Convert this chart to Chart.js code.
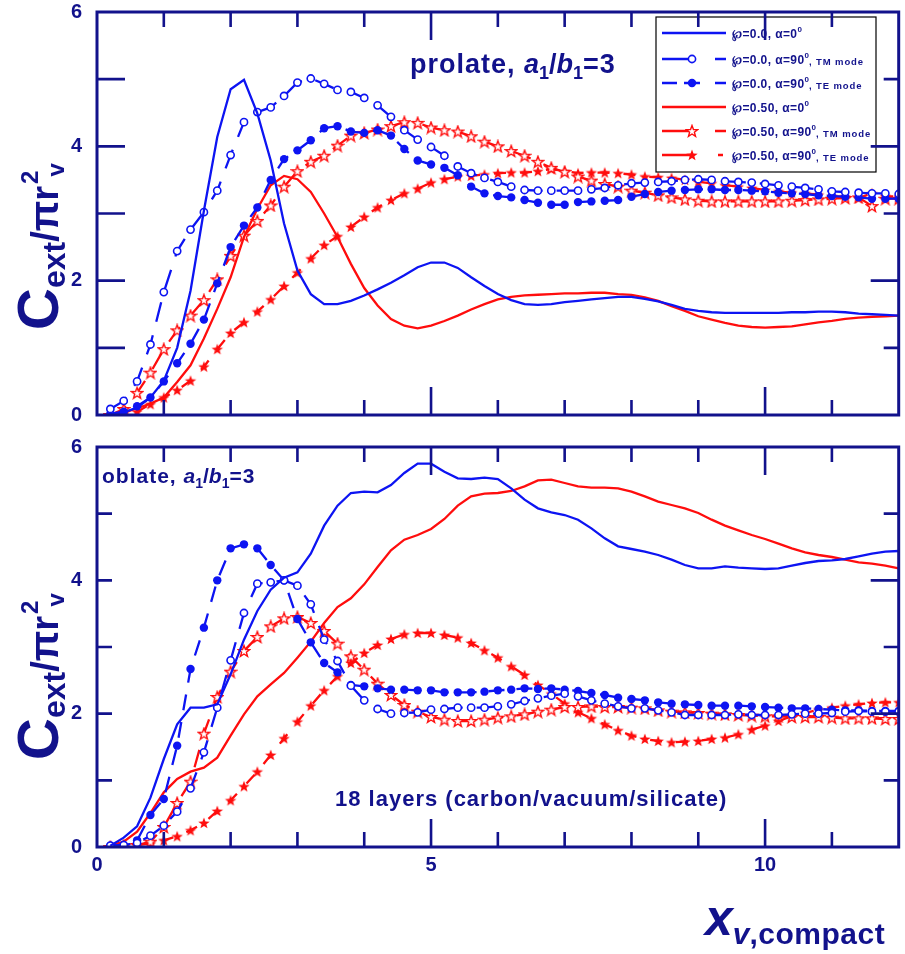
<!DOCTYPE html>
<html>
<head>
<meta charset="utf-8">
<script src="https://cdn.jsdelivr.net/npm/chart.js@4.4.0/dist/chart.umd.min.js"></script>
<style>
  body { margin: 0; background: #fff; }
  #wrap { position: relative; width: 905px; height: 954px; }
  canvas { position: absolute; left: 0; display: block; }
  #top { top: 0; }
  #bot { top: 432px; }
</style>
</head>
<body>
<div id="wrap">
  <canvas id="top" width="905" height="432"></canvas>
  <canvas id="bot" width="905" height="522"></canvas>
</div>
<script>
// size parameter x_v,compact, sampled every 0.2
const xv = [0.2,0.4,0.6,0.8,1.0,1.2,1.4,1.6,1.8,2.0,
  2.2,2.4,2.6,2.8,3.0,3.2,3.4,3.6,3.8,4.0,
  4.2,4.4,4.6,4.8,5.0,5.2,5.4,5.6,5.8,6.0,
  6.2,6.4,6.6,6.8,7.0,7.2,7.4,7.6,7.8,8.0,
  8.2,8.4,8.6,8.8,9.0,9.2,9.4,9.6,9.8,10.0,
  10.2,10.4,10.6,10.8,11.0,11.2,11.4,11.6,11.8,12.0];

// prolate panel
const proBlue0 = [0.00,0.04,0.11,0.26,0.51,1.00,1.85,3.04,4.14,4.85,
  4.99,4.49,3.79,2.85,2.15,1.80,1.65,1.65,1.70,1.78,
  1.87,1.97,2.08,2.20,2.27,2.27,2.19,2.05,1.92,1.80,
  1.71,1.65,1.64,1.65,1.68,1.70,1.72,1.74,1.76,1.76,
  1.73,1.69,1.64,1.58,1.55,1.53,1.52,1.52,1.52,1.52,
  1.52,1.53,1.53,1.54,1.54,1.53,1.51,1.50,1.49,1.48];
const proBlueTM = [0.09,0.21,0.50,1.05,1.83,2.44,2.76,3.02,3.34,3.87,
  4.36,4.51,4.58,4.75,4.95,5.01,4.93,4.84,4.81,4.72,
  4.61,4.44,4.24,4.10,3.99,3.86,3.70,3.60,3.53,3.47,
  3.40,3.35,3.34,3.34,3.34,3.34,3.36,3.38,3.42,3.45,
  3.46,3.47,3.48,3.50,3.51,3.50,3.48,3.47,3.46,3.44,
  3.42,3.40,3.38,3.36,3.33,3.32,3.31,3.30,3.30,3.29];
const proBlueTE = [0.02,0.05,0.13,0.26,0.50,0.77,1.06,1.42,1.96,2.50,
  2.82,3.09,3.50,3.81,3.94,4.09,4.27,4.30,4.22,4.20,
  4.24,4.16,3.96,3.79,3.73,3.68,3.57,3.40,3.30,3.26,
  3.24,3.20,3.16,3.13,3.13,3.17,3.18,3.19,3.20,3.25,
  3.29,3.32,3.34,3.35,3.36,3.36,3.35,3.35,3.34,3.33,
  3.31,3.30,3.29,3.27,3.26,3.25,3.24,3.22,3.22,3.22];
const proRed0 = [0.00,0.03,0.10,0.17,0.26,0.49,0.74,1.14,1.58,2.05,
  2.65,3.07,3.42,3.56,3.51,3.32,3.00,2.65,2.25,1.89,
  1.63,1.43,1.33,1.29,1.33,1.40,1.48,1.57,1.65,1.72,
  1.76,1.78,1.79,1.80,1.81,1.81,1.82,1.82,1.80,1.79,
  1.75,1.70,1.62,1.55,1.47,1.42,1.37,1.33,1.31,1.30,
  1.31,1.32,1.35,1.38,1.40,1.43,1.45,1.46,1.47,1.48];
const proRedTM = [0.00,0.09,0.33,0.63,0.98,1.26,1.48,1.71,2.02,2.37,
  2.67,2.89,3.12,3.40,3.63,3.77,3.86,4.01,4.16,4.20,
  4.25,4.30,4.36,4.35,4.28,4.24,4.22,4.15,4.07,4.00,
  3.93,3.86,3.77,3.68,3.62,3.55,3.49,3.44,3.40,3.34,
  3.31,3.27,3.24,3.21,3.19,3.18,3.18,3.18,3.18,3.18,
  3.18,3.19,3.20,3.21,3.22,3.23,3.24,3.11,3.22,3.22];
const proRedTE = [0.00,0.02,0.05,0.16,0.26,0.37,0.51,0.72,0.98,1.22,
  1.38,1.54,1.72,1.92,2.12,2.33,2.53,2.66,2.80,2.95,
  3.09,3.20,3.30,3.37,3.46,3.51,3.55,3.56,3.58,3.60,
  3.61,3.61,3.63,3.66,3.63,3.60,3.61,3.61,3.60,3.58,
  3.55,3.54,3.53,3.50,3.47,3.45,3.42,3.40,3.38,3.35,
  3.33,3.31,3.30,3.28,3.26,3.25,3.23,3.30,3.26,3.25];

// oblate panel
const obBlue0 = [0.02,0.14,0.31,0.74,1.32,1.84,2.09,2.09,2.14,2.59,
  3.11,3.54,3.86,4.04,4.12,4.40,4.82,5.12,5.31,5.33,
  5.32,5.43,5.61,5.75,5.75,5.63,5.53,5.52,5.54,5.52,
  5.38,5.21,5.08,5.02,4.98,4.91,4.78,4.63,4.51,4.47,
  4.43,4.38,4.31,4.23,4.18,4.18,4.21,4.19,4.18,4.17,
  4.18,4.22,4.26,4.29,4.30,4.32,4.36,4.40,4.43,4.44];
const obBlueTM = [0.02,0.03,0.06,0.17,0.32,0.53,0.88,1.42,2.09,2.80,
  3.51,3.95,3.97,4.00,3.92,3.64,3.11,2.79,2.42,2.20,
  2.07,2.00,2.01,2.02,2.06,2.07,2.09,2.09,2.09,2.11,
  2.14,2.19,2.23,2.27,2.30,2.26,2.20,2.15,2.11,2.08,
  2.08,2.05,2.02,1.98,1.98,1.98,1.98,1.99,1.98,1.98,
  1.98,1.99,2.00,2.00,2.01,2.03,2.04,2.03,2.03,2.03];
const obBlueTE = [0.02,0.03,0.10,0.48,0.72,1.52,2.67,3.29,4.00,4.48,
  4.54,4.48,4.23,4.00,3.42,3.07,2.76,2.62,2.43,2.41,
  2.38,2.36,2.36,2.35,2.35,2.32,2.32,2.32,2.33,2.35,
  2.36,2.38,2.37,2.38,2.36,2.34,2.31,2.28,2.24,2.22,
  2.20,2.17,2.15,2.14,2.13,2.12,2.12,2.12,2.11,2.10,
  2.09,2.08,2.08,2.07,2.06,2.05,2.05,2.04,2.04,2.04];
const obRed0 = [0.02,0.08,0.23,0.51,0.82,1.02,1.13,1.19,1.34,1.67,
  1.99,2.26,2.44,2.61,2.84,3.08,3.36,3.60,3.73,3.94,
  4.20,4.45,4.61,4.68,4.77,4.92,5.12,5.26,5.30,5.31,
  5.34,5.41,5.50,5.51,5.46,5.41,5.39,5.39,5.38,5.33,
  5.26,5.18,5.13,5.08,5.01,4.91,4.82,4.75,4.68,4.62,
  4.55,4.48,4.42,4.38,4.35,4.31,4.27,4.25,4.22,4.18];
const obRedTM = [0.00,0.02,0.03,0.08,0.30,0.66,0.98,1.70,2.25,2.63,
  2.94,3.15,3.31,3.43,3.45,3.36,3.24,3.05,2.86,2.66,
  2.45,2.28,2.13,2.03,1.95,1.91,1.89,1.89,1.91,1.94,
  1.96,1.99,2.03,2.06,2.10,2.10,2.11,2.10,2.10,2.09,
  2.08,2.05,2.03,2.02,2.01,2.00,1.99,1.98,1.97,1.96,
  1.96,1.95,1.95,1.95,1.94,1.93,1.93,1.93,1.92,1.92];
const obRedTE = [0.00,0.02,0.03,0.05,0.10,0.16,0.25,0.36,0.54,0.70,
  0.91,1.13,1.38,1.63,1.88,2.12,2.35,2.56,2.76,2.91,
  3.03,3.12,3.19,3.21,3.21,3.18,3.14,3.06,2.95,2.84,
  2.71,2.58,2.43,2.30,2.15,2.02,1.93,1.84,1.75,1.67,
  1.62,1.59,1.57,1.58,1.59,1.62,1.64,1.69,1.76,1.82,
  1.89,1.96,2.01,2.06,2.09,2.12,2.14,2.16,2.17,2.17];

// legend text: [main part, mode part]
const legendMain = ['℘=0.0, α=0', '℘=0.0, α=90', '℘=0.0, α=90', '℘=0.50, α=0', '℘=0.50, α=90', '℘=0.50, α=90'];
const legendMode = ['', ', TM mode', ', TE mode', '', ', TM mode', ', TE mode'];
const yTicks = [0, 2, 4, 6];
const xTicks = [0, 5, 10];

const blue = '#0d14f2';
const red = '#ff0d0d';
const navy = '#12128c';
const FF = 'Arial, "Liberation Sans", sans-serif';

function starImg(filled) {
  var c = document.createElement('canvas');
  c.width = 14; c.height = 14;
  var g = c.getContext('2d');
  g.beginPath();
  for (var i = 0; i < 10; i++) {
    var r = i % 2 ? 2.5 : 6;
    var an = -Math.PI / 2 + i * Math.PI / 5;
    var px = 7 + r * Math.cos(an), py = 7.5 + r * Math.sin(an);
    if (i) g.lineTo(px, py); else g.moveTo(px, py);
  }
  g.closePath();
  if (filled) { g.fillStyle = red; g.fill(); }
  else { g.fillStyle = '#fff'; g.fill(); g.strokeStyle = red; g.lineWidth = 1.4; g.stroke(); }
  return c;
}
const starHollow = starImg(false);
const starFull = starImg(true);

const st = {
  b0: { borderColor: blue, borderWidth: 2.3, pointRadius: 0 },
  bTM: { borderColor: blue, borderWidth: 2.3, borderDash: [20, 14], pointStyle: 'circle', pointRadius: 3.6,
         pointBackgroundColor: '#fff', pointBorderColor: blue, pointBorderWidth: 1.6 },
  bTE: { borderColor: blue, borderWidth: 2.3, borderDash: [16, 12], pointStyle: 'circle', pointRadius: 4.2,
         pointBackgroundColor: blue, pointBorderColor: blue, pointBorderWidth: 0 },
  r0: { borderColor: red, borderWidth: 2.3, pointRadius: 0 },
  rTM: { borderColor: red, borderWidth: 2.3, borderDash: [18, 14], pointStyle: starHollow, pointRadius: 4 },
  rTE: { borderColor: red, borderWidth: 2.3, borderDash: [12, 14], pointStyle: starFull, pointRadius: 4 }
};
const legendStyles = ['b0', 'bTM', 'bTE', 'r0', 'rTM', 'rTE'];

function ds(label, ys, s) {
  return Object.assign({ label: label, data: xv.map(function (x, i) { return { x: x, y: ys[i] }; }),
    tension: 0, fill: false }, st[s]);
}

function rich(ctx, x, y, parts) {
  for (var p of parts) {
    ctx.font = p.f;
    ctx.letterSpacing = p.ls || '0px';
    ctx.fillText(p.t, x, y + (p.dy || 0));
    x += ctx.measureText(p.t).width + (p.dx || 0);
  }
  ctx.letterSpacing = '0px';
  return x;
}

function drawMarker(ctx, s, x, y) {
  if (s === 'bTM') {
    ctx.beginPath(); ctx.arc(x, y, 3.6, 0, Math.PI * 2);
    ctx.fillStyle = '#fff'; ctx.fill(); ctx.lineWidth = 1.6; ctx.strokeStyle = blue; ctx.stroke();
  } else if (s === 'bTE') {
    ctx.beginPath(); ctx.arc(x, y, 4.2, 0, Math.PI * 2); ctx.fillStyle = blue; ctx.fill();
  } else if (s === 'rTM') {
    ctx.drawImage(starHollow, x - 7, y - 7);
  } else if (s === 'rTE') {
    ctx.drawImage(starFull, x - 7, y - 7);
  }
}

function drawLegend(ctx) {
  ctx.fillStyle = '#fff';
  ctx.fillRect(656, 17, 220, 155);
  ctx.strokeStyle = '#000'; ctx.lineWidth = 1.2;
  ctx.strokeRect(656, 17, 220, 155);
  var rows = [33, 59, 83, 107, 131, 155];
  for (var i = 0; i < rows.length; i++) {
    var y = rows[i], s = legendStyles[i];
    var col = s[0] === 'b' ? blue : red;
    ctx.strokeStyle = col; ctx.lineWidth = 2.3; ctx.setLineDash([]);
    ctx.beginPath();
    if (s === 'b0' || s === 'r0') {
      ctx.moveTo(662, y); ctx.lineTo(726, y);
    } else if (s === 'bTE') {
      ctx.moveTo(662, y); ctx.lineTo(677, y);
      ctx.moveTo(684, y); ctx.lineTo(700, y);
      ctx.moveTo(715, y); ctx.lineTo(726, y);
    } else {
      ctx.moveTo(662, y); ctx.lineTo(692, y);
      ctx.moveTo(s === 'rTE' ? 718 : 715, y); ctx.lineTo(s === 'rTE' ? 723 : 726, y);
    }
    ctx.stroke();
    drawMarker(ctx, s, 692, y);
    ctx.fillStyle = navy;
    ctx.textAlign = 'left'; ctx.textBaseline = 'alphabetic';
    var parts = [{ t: legendMain[i], f: 'bold 12px ' + FF, ls: '0.4px' },
                 { t: '0', f: 'bold 8px ' + FF, dy: -6 }];
    if (legendMode[i]) parts.push({ t: legendMode[i], f: 'bold 9.5px ' + FF, ls: '0.9px', dy: 1 });
    rich(ctx, 732, y + 5, parts);
  }
}

function drawYTitle(ctx, x, y) {
  ctx.save();
  ctx.translate(x, y);
  ctx.rotate(-Math.PI / 2);
  ctx.fillStyle = navy; ctx.textAlign = 'left'; ctx.textBaseline = 'alphabetic';
  rich(ctx, 0, 0, [
    { t: 'C', f: 'bold 58px ' + FF },
    { t: 'ext', f: 'bold 32px ' + FF, dy: 7 },
    { t: '/', f: 'bold 38px ' + FF },
    { t: 'π', f: 'bold 40px ' + FF },
    { t: 'r', f: 'bold 38px ' + FF, dx: 2 },
    { t: '2', f: 'bold 24px ' + FF, dy: -20, dx: -6 },
    { t: 'v', f: 'bold 24px ' + FF, dy: 6 }
  ]);
  ctx.restore();
}

const deco = {
  id: 'deco',
  afterDatasetsDraw: function (chart, args, o) {
    var ctx = chart.ctx, a = chart.chartArea, sx = chart.scales.x, sy = chart.scales.y;
    ctx.save();
    if (o.legend) drawLegend(ctx);
    ctx.setLineDash([]);
    ctx.strokeStyle = navy;
    ctx.lineWidth = 3;
    ctx.strokeRect(a.left, a.top, a.right - a.left, a.bottom - a.top);
    ctx.lineWidth = 2.6;
    ctx.beginPath();
    for (var v = 1; v < 12; v++) {
      var px = sx.getPixelForValue(v), len = v % 5 === 0 ? 28 : 15;
      ctx.moveTo(px, a.top); ctx.lineTo(px, a.top + len);
      ctx.moveTo(px, a.bottom); ctx.lineTo(px, a.bottom - len);
    }
    for (var w = 1; w < 6; w++) {
      var py = sy.getPixelForValue(w);
      ctx.moveTo(a.left, py); ctx.lineTo(a.left + o.leftTick, py);
      var rl = w % 2 === 0 ? 28 : 15;
      ctx.moveTo(a.right, py); ctx.lineTo(a.right - rl, py);
    }
    ctx.stroke();

    ctx.fillStyle = navy;
    ctx.textAlign = 'left'; ctx.textBaseline = 'alphabetic';
    if (o.panel === 'prolate') {
      rich(ctx, 410, 73, [
        { t: 'prolate, ', f: 'bold 27px ' + FF, ls: '1px' },
        { t: 'a', f: 'italic bold 27px ' + FF },
        { t: '1', f: 'bold 18px ' + FF, dy: 6 },
        { t: '/', f: 'bold 27px ' + FF },
        { t: 'b', f: 'italic bold 27px ' + FF },
        { t: '1', f: 'bold 18px ' + FF, dy: 6 },
        { t: '=3', f: 'bold 27px ' + FF, ls: '1px' }
      ]);
      drawYTitle(ctx, 58, 330);
    } else {
      rich(ctx, 102, 483 - 432, [
        { t: 'oblate, ', f: 'bold 21px ' + FF, ls: '1px' },
        { t: 'a', f: 'italic bold 21px ' + FF },
        { t: '1', f: 'bold 14px ' + FF, dy: 5 },
        { t: '/', f: 'bold 21px ' + FF },
        { t: 'b', f: 'italic bold 21px ' + FF },
        { t: '1', f: 'bold 14px ' + FF, dy: 5 },
        { t: '=3', f: 'bold 21px ' + FF, ls: '1px' }
      ]);
      rich(ctx, 335, 806 - 432, [{ t: '18 layers (carbon/vacuum/silicate)', f: 'bold 22px ' + FF, ls: '1px' }]);
      drawYTitle(ctx, 58, 760 - 432);
      rich(ctx, 705, 935 - 432, [
        { t: 'x', f: 'italic bold 50px ' + FF },
        { t: 'v', f: 'italic bold 30px ' + FF, dy: 9 },
        { t: ',compact', f: 'bold 30px ' + FF, dy: 9, ls: '0.5px' }
      ]);
    }
    ctx.restore();
  }
};

function makeChart(id, sets, panel) {
  var isTop = panel === 'prolate';
  return new Chart(document.getElementById(id), {
    type: 'line',
    data: { datasets: sets },
    plugins: [deco],
    options: {
      responsive: false,
      animation: false,
      events: [],
      layout: { padding: isTop ? { top: 12, right: 2, bottom: 17, left: 0 } : { top: 15, right: 2, bottom: 0, left: 0 } },
      plugins: {
        legend: { display: false },
        tooltip: { enabled: false },
        deco: { panel: panel, legend: isTop, leftTick: isTop ? 28 : 15 }
      },
      scales: {
        x: {
          type: 'linear', min: 0, max: 12,
          display: !isTop,
          grid: { display: false, drawTicks: false },
          border: { display: false },
          afterBuildTicks: function (s) { s.ticks = xTicks.map(function (v) { return { value: v }; }); },
          ticks: { color: navy, font: { family: FF, size: 20, weight: 'bold' }, padding: 6, maxRotation: 0 },
          afterFit: function (s) {
            s.paddingLeft = 0; s.paddingRight = 0; s.paddingTop = 0; s.paddingBottom = 0;
            s.height = isTop ? 0 : 107;
          }
        },
        y: {
          min: 0, max: 6,
          grid: { display: false, drawTicks: false },
          border: { display: false },
          afterBuildTicks: function (s) { s.ticks = yTicks.map(function (v) { return { value: v }; }); },
          ticks: { color: navy, font: { family: FF, size: 20, weight: 'bold' }, padding: 15 },
          afterFit: function (s) {
            s.paddingLeft = 0; s.paddingRight = 0; s.paddingTop = 0; s.paddingBottom = 0;
            s.width = 97;
          }
        }
      }
    }
  });
}

makeChart('top', [
  ds('P=0.0, a=0', proBlue0, 'b0'),
  ds('P=0.0, a=90, TM mode', proBlueTM, 'bTM'),
  ds('P=0.0, a=90, TE mode', proBlueTE, 'bTE'),
  ds('P=0.50, a=0', proRed0, 'r0'),
  ds('P=0.50, a=90, TM mode', proRedTM, 'rTM'),
  ds('P=0.50, a=90, TE mode', proRedTE, 'rTE')
], 'prolate');

makeChart('bot', [
  ds('P=0.0, a=0', obBlue0, 'b0'),
  ds('P=0.0, a=90, TM mode', obBlueTM, 'bTM'),
  ds('P=0.0, a=90, TE mode', obBlueTE, 'bTE'),
  ds('P=0.50, a=0', obRed0, 'r0'),
  ds('P=0.50, a=90, TM mode', obRedTM, 'rTM'),
  ds('P=0.50, a=90, TE mode', obRedTE, 'rTE')
], 'oblate');
</script>
</body>
</html>
